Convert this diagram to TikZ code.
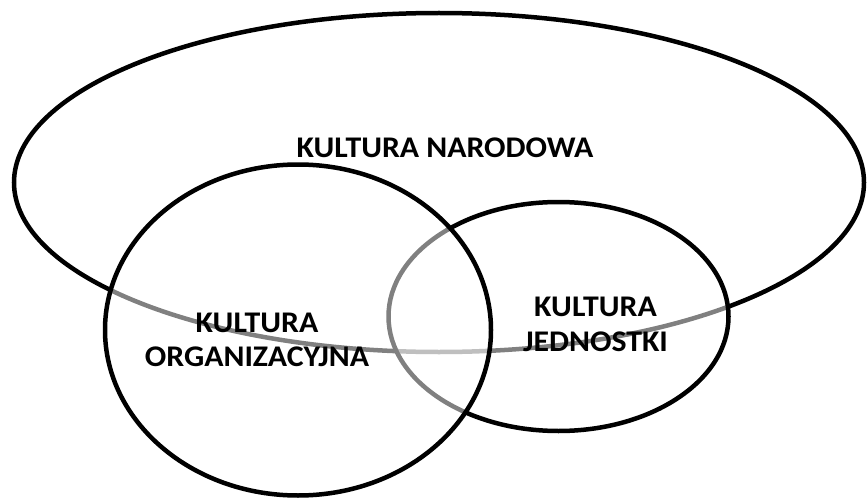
\documentclass[tikz,border=0pt]{standalone}
\usepackage{fontspec}
\setmainfont[FakeStretch=1.06]{Carlito}
\begin{document}
\begin{tikzpicture}[x=1pt,y=-1pt,
  ring/.style={draw=black,line width=4.5pt},
  veil/.style={ring,fill=white,fill opacity=0.5},
  lbl/.style={font=\fontsize{30}{34.5}\selectfont\bfseries,align=center,inner sep=0pt,text=black}]
\useasboundingbox (0,0) rectangle (867,500);
\draw[ring] (439,182.5) ellipse [x radius=425pt, y radius=169.5pt];
\draw[veil] (558.5,316.5) ellipse [x radius=170pt, y radius=114.5pt];
\draw[veil] (298,330) ellipse [x radius=193pt, y radius=165.5pt];
\node[lbl] (nar) at (445,147.5) {KULTURA NARODOWA};
\node[lbl] (org) at (257,340) {KULTURA\\ORGANIZACYJNA};
\node[lbl] (jed) at (595.5,324.5) {KULTURA\\JEDNOSTKI};
\end{tikzpicture}
\end{document}
